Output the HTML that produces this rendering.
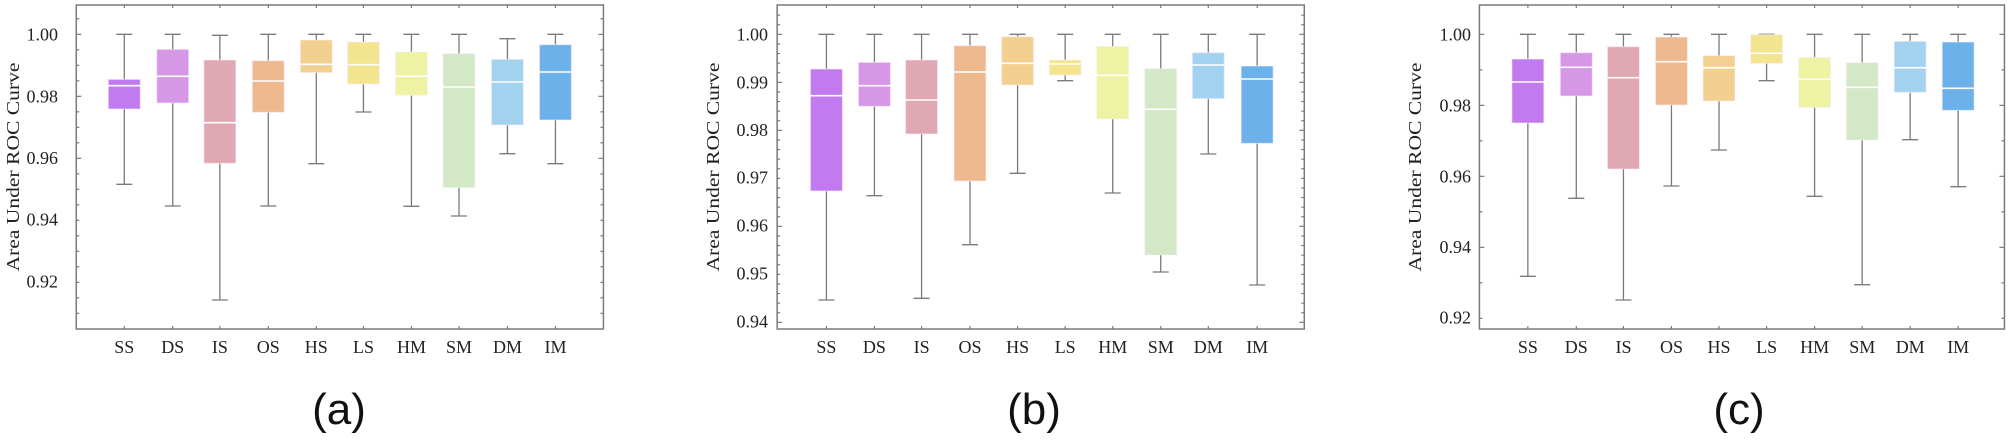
<!DOCTYPE html>
<html><head><meta charset="utf-8"><style>
html,body{margin:0;padding:0;background:#fff;}
svg{display:block;}
.tl{font-family:"Liberation Serif",serif;font-size:18px;fill:#222;}
.cap{font-family:"Liberation Sans",sans-serif;font-size:44px;fill:#111;}
</style></head><body>
<svg id="s" width="2008" height="448" viewBox="0 0 2008 448" xmlns="http://www.w3.org/2000/svg">
<g id="g"></g>
<!-- Panel a text -->
<g class="tl" text-anchor="end">
<text x="58" y="40.3">1.00</text><text x="58" y="102.3">0.98</text><text x="58" y="164">0.96</text><text x="58" y="225.7">0.94</text><text x="58" y="287.7">0.92</text>
<text x="768" y="40.3">1.00</text><text x="768" y="88.3">0.99</text><text x="768" y="136">0.98</text><text x="768" y="183.7">0.97</text><text x="768" y="231.7">0.96</text><text x="768" y="279.3">0.95</text><text x="768" y="327.7">0.94</text>
<text x="1471" y="40.3">1.00</text><text x="1471" y="111.3">0.98</text><text x="1471" y="182.3">0.96</text><text x="1471" y="253">0.94</text><text x="1471" y="323.3">0.92</text>
</g>
<g class="tl" text-anchor="middle">
<text transform="translate(19,167) rotate(-90)" textLength="209" lengthAdjust="spacingAndGlyphs">Area Under ROC Curve</text>
<text transform="translate(719,167) rotate(-90)" textLength="209" lengthAdjust="spacingAndGlyphs">Area Under ROC Curve</text>
<text transform="translate(1421,167) rotate(-90)" textLength="209" lengthAdjust="spacingAndGlyphs">Area Under ROC Curve</text>
<text x="124.3" y="353">SS</text><text x="172.7" y="353">DS</text><text x="219.9" y="353">IS</text><text x="268.3" y="353">OS</text><text x="316.3" y="353">HS</text><text x="363.5" y="353">LS</text><text x="411.5" y="353">HM</text><text x="459" y="353">SM</text><text x="507.5" y="353">DM</text><text x="555.5" y="353">IM</text>
<text x="826.4" y="353">SS</text><text x="874.4" y="353">DS</text><text x="921.6" y="353">IS</text><text x="970" y="353">OS</text><text x="1017.6" y="353">HS</text><text x="1065.2" y="353">LS</text><text x="1112.8" y="353">HM</text><text x="1160.8" y="353">SM</text><text x="1208.3" y="353">DM</text><text x="1257.2" y="353">IM</text>
<text x="1527.9" y="353">SS</text><text x="1576.3" y="353">DS</text><text x="1623.5" y="353">IS</text><text x="1671.5" y="353">OS</text><text x="1719" y="353">HS</text><text x="1766.6" y="353">LS</text><text x="1814.6" y="353">HM</text><text x="1862.2" y="353">SM</text><text x="1910.2" y="353">DM</text><text x="1958.2" y="353">IM</text>
</g>
<g class="cap" text-anchor="middle">
<text x="339" y="424">(a)</text><text x="1034" y="424">(b)</text><text x="1739" y="424">(c)</text>
</g>
</svg>
<script>
var NS="http://www.w3.org/2000/svg",G=document.getElementById("g");
function el(t,a){var e=document.createElementNS(NS,t);for(var k in a)e.setAttribute(k,a[k]);G.appendChild(e);return e;}
var cols=["#c17bef","#d597e6","#e0a8b3","#eeb98f","#f2d08f","#f3e48f","#eef3a3","#d3e8c6","#a3d2ef","#6cb1ea"];
var P=[
{off:0,fl:178,fr:1408,cx:[290,403,513,626,738,848,960,1071,1184,1296],
 maj:[103,289,474,659,845],nmin:3,
 d:[[103,238,257,327,553],[103,148,229,309,618],[106,180,368,490,900],[103,182,243,337,618],[103,120,193,218,491],[103,126,194,252,336],[103,156,229,286,619],[103,161,261,563,648],[116,178,246,375,461],[103,134,216,360,491]]},
{off:670,fl:250,fr:1480,cx:[365,477,587,700,811,922,1033,1145,1256,1370],
 maj:[103,247,390,533,677,820,965],nmin:4,
 d:[[103,207,287,573,900],[103,187,257,319,587],[103,180,300,402,895],[103,137,216,543,734],[103,110,190,255,520],[103,180,192,225,242],[103,139,226,357,579],[103,206,328,765,816],[103,158,195,296,462],[103,198,237,430,855]]},
{off:1338,fl:330,fr:1555,cx:[443,556,666,778,889,1000,1112,1223,1335,1447],
 maj:[103,316,529,741,952],nmin:1,
 d:[[103,177,246,369,829],[103,158,202,288,595],[103,140,233,507,900],[103,111,185,315,558],[103,167,203,303,450],[103,104,160,190,242],[103,172,238,322,589],[103,188,262,420,854],[103,124,203,277,419],[103,126,265,331,560]]}
];
var SX=1/2.3333,SY=1/3,gc="#7a7a7a";
P.forEach(function(p){
 function X(z){return p.off+z*SX;} function Y(z){return z*SY;}
 var L=X(p.fl),R=X(p.fr),T=5,B=329;
 // ticks
 var step=p.maj[1]-p.maj[0];
 var ms=step/(p.nmin+1);
 for(var y=p.maj[0]-step;y<=988;y+=ms){
   var yy=Y(y); if(yy<T+1||yy>B-1)continue;
   var isMaj=false;for(var i=0;i<p.maj.length;i++)if(Math.abs(p.maj[i]-y)<2)isMaj=true;
   var len=isMaj?5:3;
   el("line",{x1:L,x2:L+len,y1:yy,y2:yy,stroke:gc,"stroke-width":1.2});
   el("line",{x1:R-len,x2:R,y1:yy,y2:yy,stroke:gc,"stroke-width":1.2});
 }
 p.cx.forEach(function(c,i){
   var x=X(c),v=p.d[i],w=32,cw=16;
   el("line",{x1:x,x2:x,y1:Y(v[0]),y2:Y(v[4]),stroke:gc,"stroke-width":1.3});
   el("line",{x1:x-cw/2,x2:x+cw/2,y1:Y(v[0]),y2:Y(v[0]),stroke:gc,"stroke-width":1.3});
   el("line",{x1:x-cw/2,x2:x+cw/2,y1:Y(v[4]),y2:Y(v[4]),stroke:gc,"stroke-width":1.3});
   el("rect",{x:x-w/2,y:Y(v[1]),width:w,height:Math.max(1,Y(v[3])-Y(v[1])),fill:cols[i],stroke:"#fbeefb","stroke-opacity":0.6,"stroke-width":1});
   el("line",{x1:x-w/2,x2:x+w/2,y1:Y(v[2]),y2:Y(v[2]),stroke:"#fff","stroke-width":1.6});
   el("line",{x1:x,x2:x,y1:T,y2:T+3,stroke:gc,"stroke-width":1.2});
   el("line",{x1:x,x2:x,y1:B,y2:B-3,stroke:gc,"stroke-width":1.2});
 });
 el("rect",{x:L,y:T,width:R-L,height:B-T,fill:"none",stroke:gc,"stroke-width":1.5});
});
</script>
</body></html>
